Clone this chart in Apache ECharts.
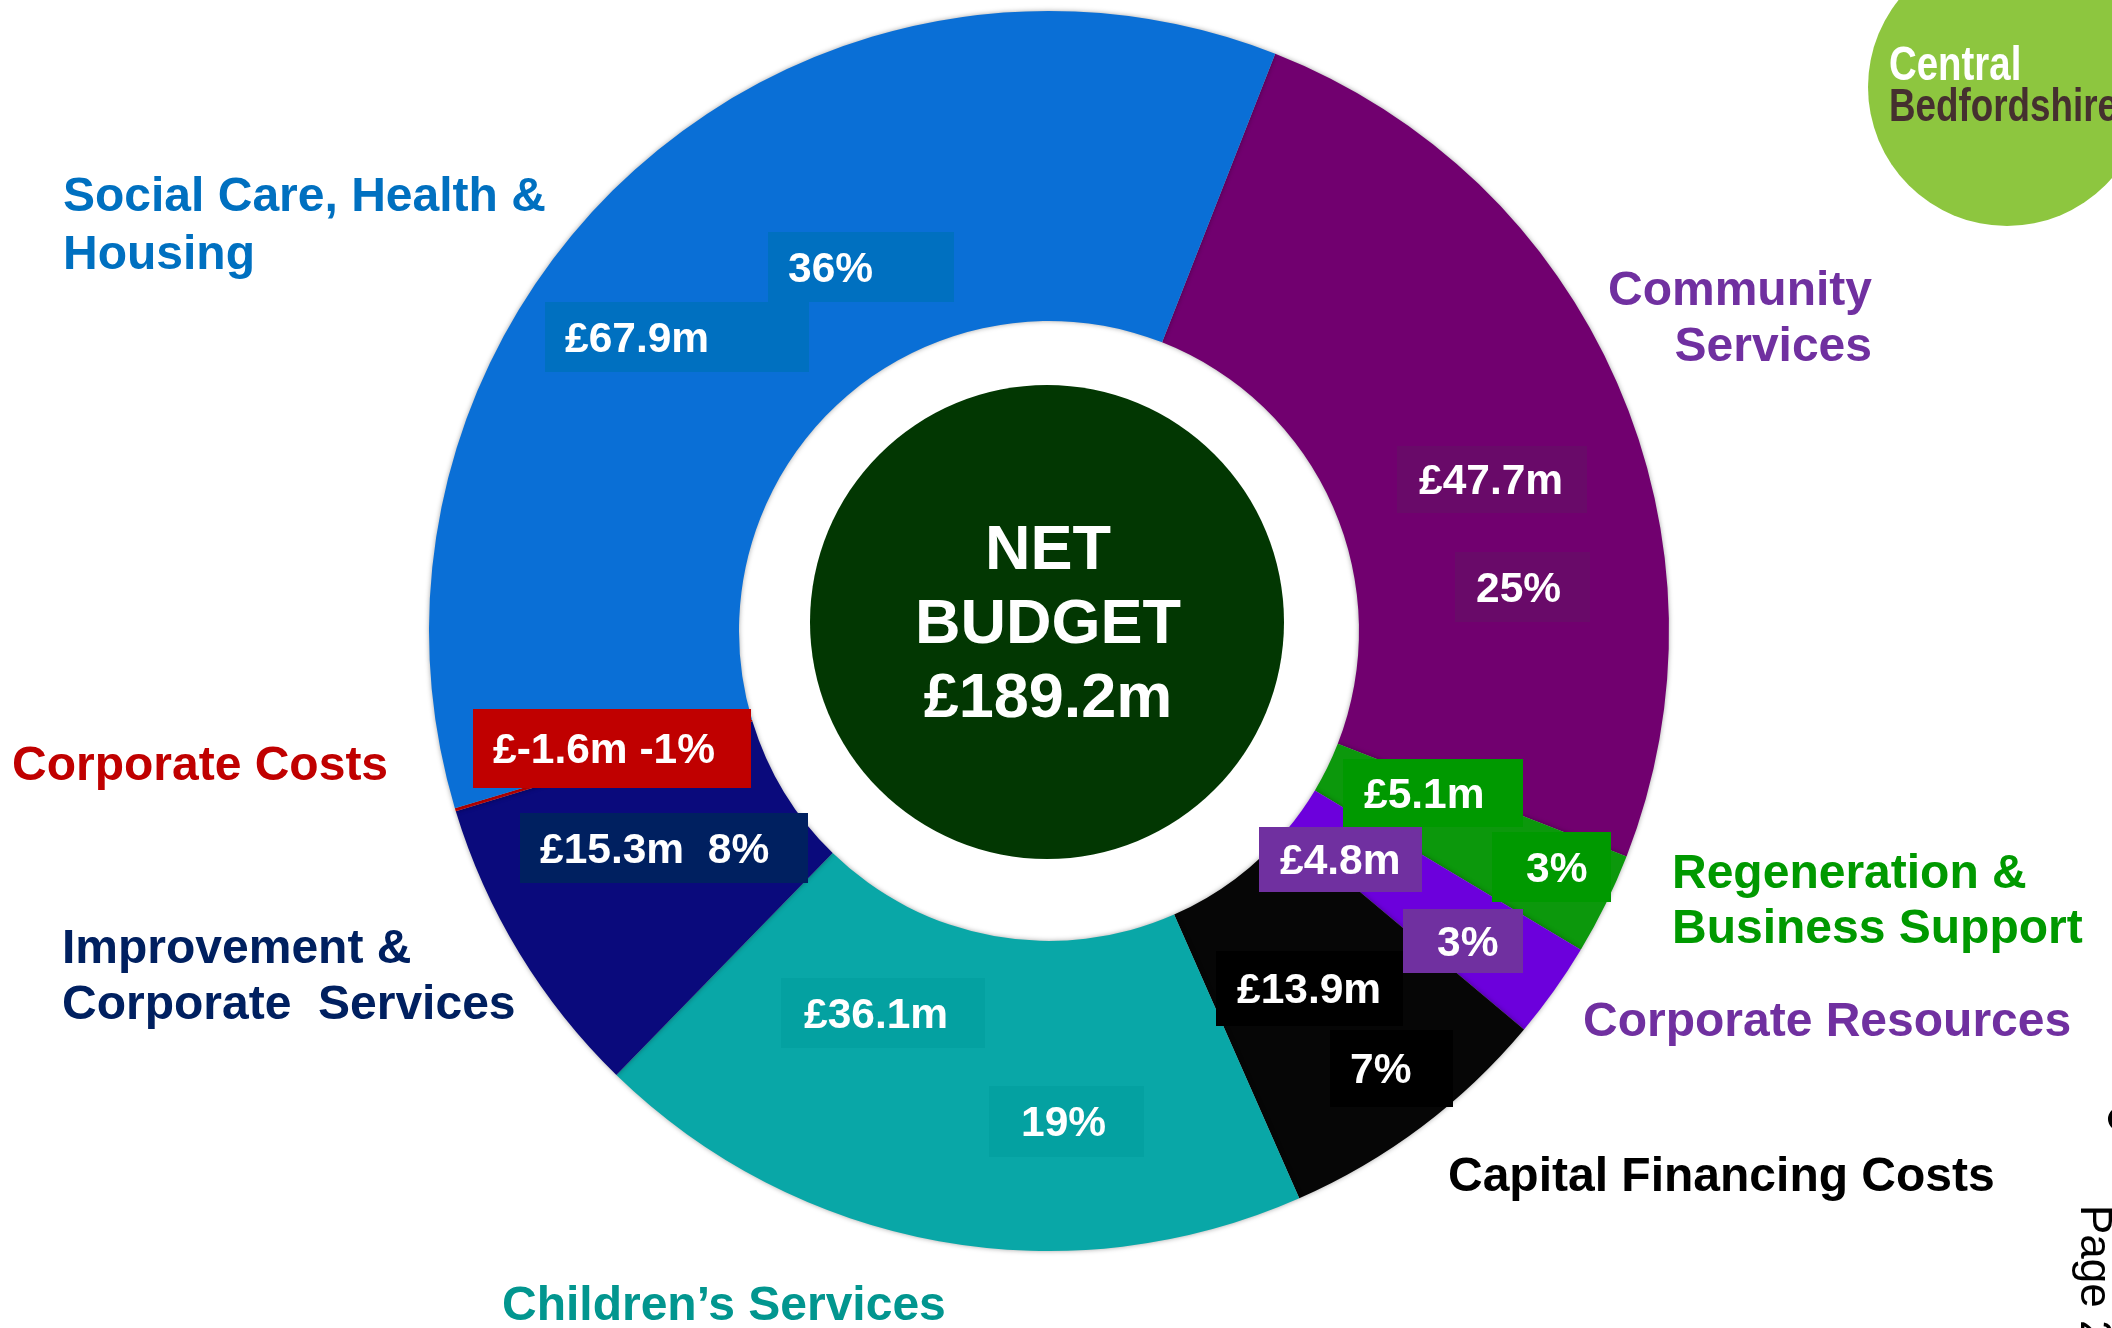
<!DOCTYPE html>
<html>
<head>
<meta charset="utf-8">
<title>Net Budget £189.2m</title>
<script src="https://cdn.jsdelivr.net/npm/echarts@6/dist/echarts.min.js"></script>
<style>
  html, body { margin: 0; padding: 0; background: #ffffff; }
  #chart { width: 2112px; height: 1328px; }
</style>
</head>
<body>
<div id="chart"></div>
<script>
// Directorate net budgets (£m), in clockwise order from the top of the ring
const categories = [
  'Community Services',
  'Regeneration & Business Support',
  'Corporate Resources',
  'Capital Financing Costs',
  'Children\u2019s Services',
  'Improvement & Corporate Services',
  'Corporate Costs',
  'Social Care, Health & Housing'
];
const values = [47.7, 5.1, 4.8, 13.9, 36.1, 15.3, -1.6, 67.9];

// Ring colours per directorate
const sliceColors = ['#71006f', '#0c980c', '#6c00dc', '#060606', '#09a7a7', '#0a0a7c', '#c00000', '#0a6fd6'];
// Label-box colours per directorate
const boxColors = ['#690a69', '#009900', '#7030a0', '#000000', '#04a1a1', '#002060', '#c00000', '#0070c0'];
// Category title colours and text lines
const titleColors = ['#7030a0', '#009900', '#7030a0', '#000000', '#02968f', '#002060', '#c00000', '#0070c0'];
const titleLines = [
  ['Community', 'Services'],
  ['Regeneration &', 'Business Support'],
  ['Corporate Resources'],
  ['Capital Financing Costs'],
  ['Children\u2019s Services'],
  ['Improvement &', 'Corporate  Services'],
  ['Corporate Costs'],
  ['Social Care, Health &', 'Housing']
];

const FONT = '"Liberation Sans", Arial, Helvetica, sans-serif';
const total = values.reduce((a, b) => a + b, 0);
const pct = v => Math.round(v / total * 100) + '%';
const money = v => '\u00a3' + v + 'm';

// Where each category title sits: [x, first line centre y, line step, align]
const titlePos = [
  [1872, 292, 56, 'right'],
  [1672, 875, 55, 'left'],
  [1583, 1023, 0, 'left'],
  [1448, 1178, 0, 'left'],
  [502, 1307, 0, 'left'],
  [62, 950, 56, 'left'],
  [12, 767, 0, 'left'],
  [63, 198, 58, 'left']
];

// Label boxes: [category index, content, x, y, w, h, text x]
const boxLayout = [
  [7, 'pct',   768, 232, 186, 70, 788],
  [7, 'value', 545, 302, 264, 70, 565],
  [0, 'value', 1397, 446, 190, 67, 1419],
  [0, 'pct',   1455, 552, 135, 70, 1476],
  [1, 'value', 1343, 759, 180, 68, 1364],
  [1, 'pct',   1492, 832, 119, 70, 1526],
  [2, 'value', 1259, 827, 163, 65, 1280],
  [2, 'pct',   1403, 909, 120, 64, 1437],
  [3, 'value', 1216, 951, 187, 75, 1237],
  [3, 'pct',   1330, 1030, 123, 77, 1350],
  [4, 'value', 781, 978, 204, 70, 804],
  [4, 'pct',   989, 1086, 155, 71, 1021],
  [5, 'both',  520, 813, 288, 70, 540],
  [6, 'both',  473, 709, 278, 79, 493]
];

const graphics = [];

function textEl(x, y, text, size, fill, align, weight, extra) {
  return Object.assign({
    type: 'text', x: x, y: y, z: 10, silent: true,
    style: {
      text: text, fill: fill,
      font: (weight || 'bold') + ' ' + size + 'px ' + FONT,
      textAlign: align, align: align,
      textVerticalAlign: 'middle', verticalAlign: 'middle'
    }
  }, extra || {});
}

// Category titles
titleLines.forEach((lines, i) => {
  const p = titlePos[i];
  lines.forEach((line, k) => {
    graphics.push(textEl(p[0], p[1] + k * p[2], line, 48, titleColors[i], p[3]));
  });
});

// Value / percentage boxes
boxLayout.forEach(b => {
  const i = b[0];
  const v = values[i];
  const txt = b[1] === 'value' ? money(v) : b[1] === 'pct' ? pct(v) : money(v) + (v < 0 ? ' ' : '  ') + pct(v);
  graphics.push({
    type: 'rect', z: 9, silent: true,
    shape: { x: b[2], y: b[3], width: b[4], height: b[5] },
    style: { fill: boxColors[i] }
  });
  graphics.push(textEl(b[6], b[3] + b[5] / 2 + 3, txt, 42.5, '#ffffff', 'left'));
});

// Centre disc with the net total
graphics.push({
  type: 'circle', z: 9, silent: true,
  shape: { cx: 1047, cy: 622, r: 237 },
  style: { fill: '#023702' }
});
['NET', 'BUDGET', money(total.toFixed(1))].forEach((t, k) => {
  graphics.push(textEl(1048, 552 + k * 74, t, 63, '#ffffff', 'center'));
});

// Council logo, top right
graphics.push({
  type: 'circle', z: 9, silent: true,
  shape: { cx: 2007, cy: 87, r: 139 },
  style: { fill: '#8dc63f' }
});
graphics.push(textEl(1889, 67, 'Central', 48, '#ffffff', 'left', 'bold', { scaleX: 0.8 }));
graphics.push(textEl(1889, 108, 'Bedfordshire', 46, '#45302f', 'left', 'bold', { scaleX: 0.8 }));

// Page marker along the right edge
graphics.push(textEl(2093, 1205, 'Page 2', 44, '#000000', 'left', 'normal', { rotation: -Math.PI / 2 }));
graphics.push({
  type: 'arc', z: 10, silent: true,
  shape: { cx: 2120, cy: 1119, r: 10, startAngle: Math.PI * 0.62, endAngle: Math.PI * 1.38 },
  style: { stroke: '#000000', lineWidth: 4, fill: null }
});

const chart = echarts.init(document.getElementById('chart'), null, { renderer: 'canvas' });
chart.setOption({
  backgroundColor: '#ffffff',
  animation: false,
  series: [{
    type: 'pie',
    center: [1049, 631],
    radius: [310, 620],
    startAngle: 68.6,
    clockwise: true,
    // ECharts drops negative slices, so the net-negative line is kept as a
    // zero-width wedge that minAngle widens into a thin rule
    minAngle: 0.3,
    silent: true,
    label: { show: false },
    labelLine: { show: false },
    emphasis: { disabled: true },
    itemStyle: {
      borderWidth: 0,
      shadowBlur: 5,
      shadowColor: 'rgba(0,0,0,0.35)'
    },
    data: categories.map((name, i) => ({
      name: name,
      value: Math.max(values[i], 0),
      itemStyle: { color: sliceColors[i] }
    }))
  }],
  graphic: { elements: graphics }
});
</script>
</body>
</html>
